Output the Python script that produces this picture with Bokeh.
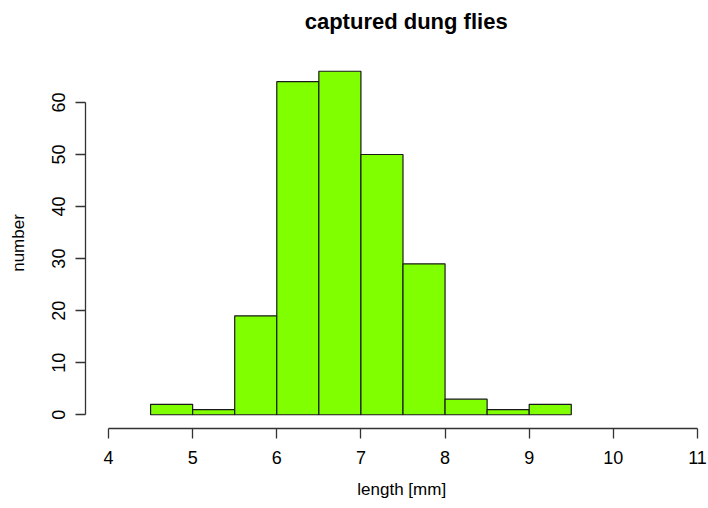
from bokeh.plotting import figure
from bokeh.models import Range1d, FixedTicker, LinearAxis
from bokeh.embed import file_html
from bokeh.resources import INLINE

# ---- data ----
bin_left = [4.5, 5.0, 5.5, 6.0, 6.5, 7.0, 7.5, 8.0, 8.5, 9.0]
bin_right = [5.0, 5.5, 6.0, 6.5, 7.0, 7.5, 8.0, 8.5, 9.0, 9.5]
counts = [2, 1, 19, 64, 66, 50, 29, 3, 1, 2]
x_ticks = [4, 5, 6, 7, 8, 9, 10, 11]
y_ticks = [0, 10, 20, 30, 40, 50, 60]
title_text = "captured dung flies"
xlab = "length [mm]"
ylab = "number"

FONT = "Liberation Sans"
W, H = 708, 508
FL, FR, FT, FB = 85, 708, 57, 428  # frame edges in canvas px

# px per unit from reference: x 4 -> 108 px, 11 -> 697 px
XPU = 84.14
x0 = 4 - (108 - FL) / XPU
x1 = 4 + (FR - 108) / XPU
y0, y1 = -2.64, 68.64
YPU = (FB - FT) / (y1 - y0)

p = figure(width=W, height=H, output_backend="svg", toolbar_location=None,
           x_range=Range1d(x0, x1), y_range=Range1d(y0, y1),
           min_border_left=FL, min_border_right=W - FR,
           min_border_top=FT, min_border_bottom=H - FB)
p.outline_line_color = None
p.grid.visible = False
p.background_fill_color = "white"
p.border_fill_color = "white"

p.quad(left=bin_left, right=bin_right, bottom=0, top=counts,
       fill_color="#7FFF00", line_color="#1a1a1a", line_width=1.2)

ax = p.xaxis[0]
ax.ticker = FixedTicker(ticks=x_ticks)
ax.bounds = (x_ticks[0], x_ticks[-1])
ay = p.yaxis[0]
ay.ticker = FixedTicker(ticks=y_ticks)
ay.bounds = (y_ticks[0], y_ticks[-1])
ay.major_label_orientation = "vertical"
for a in (ax, ay):
    a.axis_line_color = "#333333"
    a.axis_line_width = 1.3
    a.major_tick_line_color = "#333333"
    a.major_tick_line_width = 1.3
    a.major_tick_out = 10
    a.major_tick_in = 0
    a.minor_tick_out = 0
    a.minor_tick_in = 0
    a.major_label_text_font = FONT
    a.major_label_text_font_size = "18px"
    a.major_label_text_color = "black"
ax.major_label_standoff = 12
ay.major_label_standoff = 10

NB = "\u00a0"
# label is centred on the frame; non-breaking spaces nudge it to the R plot-region centre
ax.axis_label = NB * 2 + xlab
ax.axis_label_text_font = FONT
ax.axis_label_text_font_size = "17px"
ax.axis_label_text_font_style = "normal"
ax.axis_label_text_color = "black"
ax.axis_label_standoff = 13


def label_axis(text, size, style, standoff, bounds):
    a = LinearAxis(ticker=FixedTicker(ticks=[]), bounds=bounds,
                   axis_line_color=None, major_tick_line_color=None,
                   minor_tick_line_color=None, major_tick_out=0, major_tick_in=0,
                   minor_tick_out=0, minor_tick_in=0, major_label_standoff=0,
                   major_label_text_font_size="0px",
                   axis_label=text, axis_label_text_font=FONT,
                   axis_label_text_font_size=size, axis_label_text_font_style=style,
                   axis_label_text_color="black", axis_label_standoff=standoff)
    return a


tc = 4 + (406 - 108) / XPU
p.add_layout(label_axis(NB * 3 + title_text, "22px", "bold", 24, (tc - 1, tc + 1)), "above")
yc = y1 - (242 - FT) / YPU
p.add_layout(label_axis(ylab, "17px", "normal", 22, (yc - 5, yc + 5)), "left")

open("out.html", "w").write(file_html(p, INLINE))
